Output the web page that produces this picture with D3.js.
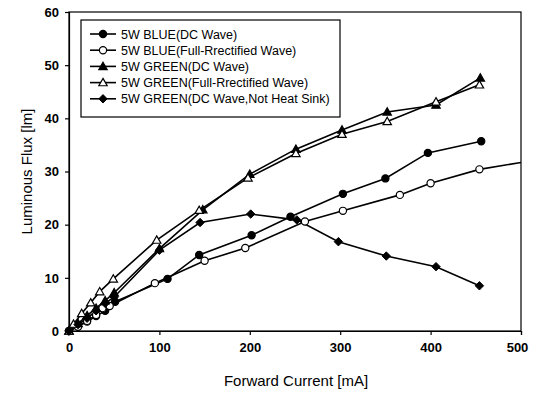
<!DOCTYPE html>
<html><head><meta charset="utf-8">
<script src="https://cdn.jsdelivr.net/npm/d3@7"></script>
<style>body{margin:0;background:#fff}svg{display:block}text{font-family:"Liberation Sans",Arial,sans-serif;fill:#000}</style>
</head><body><svg id="c" width="540" height="396"></svg>
<script>
const seriesNames = ["5W BLUE(DC Wave)","5W BLUE(Full-Rrectified Wave)","5W GREEN(DC Wave)","5W GREEN(Full-Rrectified Wave)","5W GREEN(DC Wave,Not Heat Sink)"];
const markerTypes = ["circleFill","circleOpen","triFill","triOpen","diamondFill"];
const blueDC_x = [0,10,20,30,40,51,109,144,202,245,303,350,397,456];
const blueDC_y = [0,0.9,1.8,2.8,3.8,5.5,9.8,14.3,18.0,21.5,25.8,28.7,33.5,35.7];
const blueFR_x = [0,10,20,30,37,45,95,150,195,261,303,366,400,454,500];
const blueFR_y = [0,0.8,1.9,3.0,4.3,4.7,9.0,13.2,15.6,20.6,22.6,25.6,27.8,30.4,31.7];
const greenDC_x = [0,10,20,30,40,50,100,148,200,251,302,352,406,455];
const greenDC_y = [0,1.4,2.9,4.3,5.7,7.2,15.5,22.8,29.5,34.2,37.8,41.2,42.5,47.6];
const greenFR_x = [0,5,14,24,34,49,97,144,198,251,302,352,406,454];
const greenFR_y = [0,1.3,3.3,5.3,7.4,9.8,17.1,22.7,28.8,33.4,37.0,39.4,43.1,46.3];
const greenNH_x = [0,10,20,30,40,50,100,145,201,252,298,351,406,454];
const greenNH_y = [0,1.2,2.4,3.8,5.2,6.4,15.2,20.4,22.0,20.9,16.8,14.1,12.1,8.5];
const xTicks = [0,100,200,300,400,500];
const yTicks = [0,10,20,30,40,50,60];

const seriesX = [blueDC_x,blueFR_x,greenDC_x,greenFR_x,greenNH_x];
const seriesY = [blueDC_y,blueFR_y,greenDC_y,greenFR_y,greenNH_y];

const svg = d3.select("#c");
const L=69,R=521,T=12,B=331;
const x = d3.scaleLinear().domain([0,500]).range([L,R]);
const y = d3.scaleLinear().domain([0,60]).range([B,T]);

svg.append("defs").append("clipPath").attr("id","clip").append("rect")
  .attr("x",L).attr("y",T).attr("width",R-L).attr("height",B-T);

// frame
svg.append("rect").attr("x",L).attr("y",T).attr("width",R-L).attr("height",B-T)
  .attr("fill","none").attr("stroke","#000").attr("stroke-width",1.2);

// axes
const xa = svg.append("g").attr("transform",`translate(0,${B})`)
  .call(d3.axisBottom(x).tickValues(xTicks).tickSize(4).tickPadding(8).tickFormat(d3.format("d")));
const ya = svg.append("g").attr("transform",`translate(${L},0)`)
  .call(d3.axisLeft(y).tickValues(yTicks).tickSize(4).tickPadding(6).tickFormat(d3.format("d")));
[xa,ya].forEach(a=>{
  a.select(".domain").attr("stroke","#000").attr("stroke-width",1.2);
  a.selectAll(".tick line").attr("stroke","#000").attr("stroke-width",1.2);
  a.selectAll("text").attr("font-size",13).attr("font-weight","bold")
   .attr("font-family","'Liberation Sans',Arial,sans-serif").attr("fill","#000");
});
xa.selectAll(".tick").filter(d=>d===500).select("text").attr("dx",-4);

svg.append("text").attr("x",296).attr("y",386).attr("text-anchor","middle")
  .attr("font-size",15).text("Forward Current [mA]");
svg.append("text").attr("transform",`translate(32,${(T+B)/2}) rotate(-90)`)
  .attr("text-anchor","middle").attr("font-size",15).text("Luminous Flux [lm]");

function drawMarker(g, type, cx, cy){
  if(type==="circleFill"||type==="circleOpen"){
    g.append("circle").attr("cx",cx).attr("cy",cy).attr("r",3.6)
      .attr("fill",type==="circleFill"?"#000":"#fff").attr("stroke","#000").attr("stroke-width",1.2);
  } else if(type==="triFill"||type==="triOpen"){
    const s=4.2;
    g.append("path").attr("d",`M${cx},${cy-s}L${cx+s},${cy+s*0.75}L${cx-s},${cy+s*0.75}Z`)
      .attr("fill",type==="triFill"?"#000":"#fff").attr("stroke","#000").attr("stroke-width",1.2);
  } else {
    const s=4.2;
    g.append("path").attr("d",`M${cx},${cy-s}L${cx+s},${cy}L${cx},${cy+s}L${cx-s},${cy}Z`)
      .attr("fill","#000").attr("stroke","#000").attr("stroke-width",1);
  }
}

const plot = svg.append("g").attr("clip-path","url(#clip)");
const line = d3.line().x(d=>x(d[0])).y(d=>y(d[1]));
seriesX.forEach((xs,i)=>{
  const pts = xs.map((v,j)=>[v,seriesY[i][j]]);
  plot.append("path").attr("d",line(pts)).attr("fill","none")
    .attr("stroke","#000").attr("stroke-width",1.6);
});
seriesX.forEach((xs,i)=>{
  const g = svg.append("g");
  xs.forEach((v,j)=>{ if(v<500) drawMarker(g, markerTypes[i], x(v), y(seriesY[i][j])); });
});

// legend
const lg = svg.append("g");
lg.append("rect").attr("x",81).attr("y",20).attr("width",259).attr("height",97)
  .attr("fill","#fff").attr("stroke","#000").attr("stroke-width",1.2);
seriesNames.forEach((n,i)=>{
  const yy = 34 + i*16.2;
  lg.append("line").attr("x1",90).attr("x2",116).attr("y1",yy).attr("y2",yy)
    .attr("stroke","#000").attr("stroke-width",1.6);
  drawMarker(lg, markerTypes[i], 103, yy);
  lg.append("text").attr("x",121).attr("y",yy+4.5).attr("font-size",12.5).text(n);
});
</script></body></html>
